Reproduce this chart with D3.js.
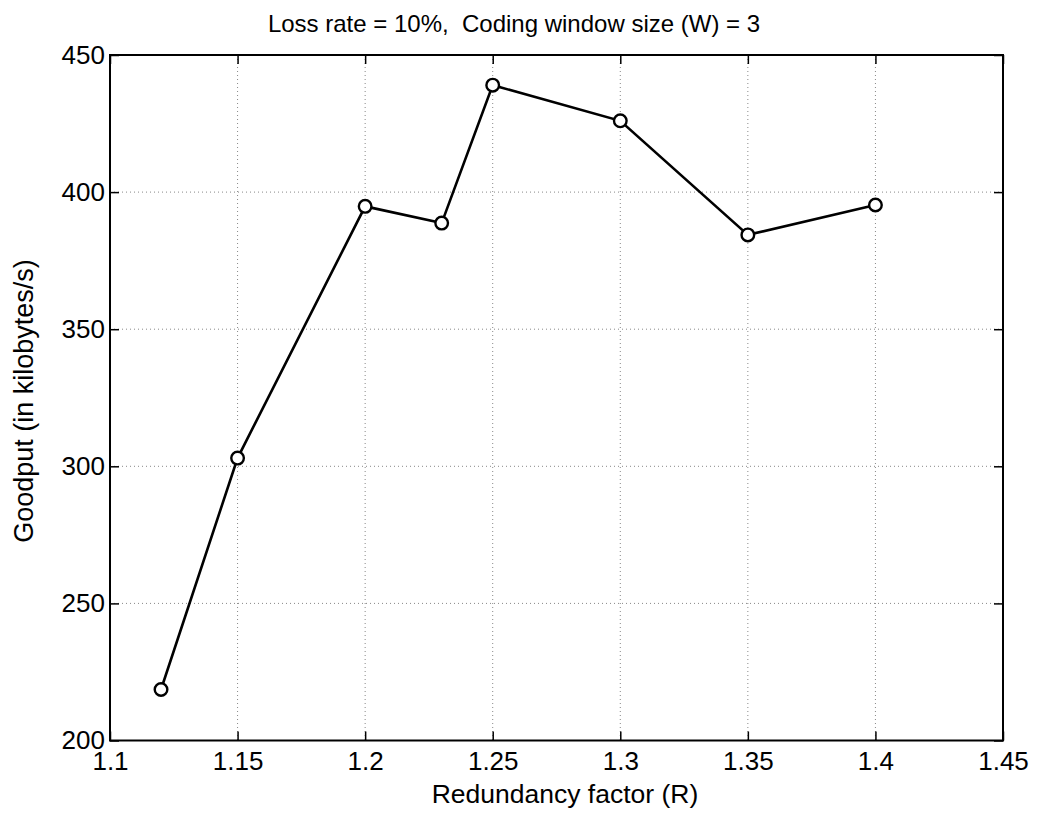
<!DOCTYPE html>
<html><head><meta charset="utf-8">
<script src="https://cdn.jsdelivr.net/npm/d3@7"></script>
<style>body{margin:0;background:#fff}svg{display:block}text{font-family:"Liberation Sans",Arial,sans-serif;fill:#000}</style>
</head><body>
<svg id="c" width="1037" height="817"></svg>
<script>
const redundancy = [1.12, 1.15, 1.2, 1.23, 1.25, 1.3, 1.35, 1.4];
const goodput = [218.6, 303, 394.8, 388.7, 439, 426, 384.4, 395.3];
const xTicks = [1.1, 1.15, 1.2, 1.25, 1.3, 1.35, 1.4, 1.45];
const xTickLabels = ["1.1", "1.15", "1.2", "1.25", "1.3", "1.35", "1.4", "1.45"];
const yTicks = [200, 250, 300, 350, 400, 450];
const yTickLabels = ["200", "250", "300", "350", "400", "450"];
const titleText = "Loss rate = 10%,  Coding window size (W) = 3";
const xLabel = "Redundancy factor (R)";
const yLabel = "Goodput (in kilobytes/s)";

const L = 110, R = 1003, T = 55, B = 740.5;
const svg = d3.select("#c");
const x = d3.scaleLinear().domain([1.1, 1.45]).range([L, R]);
const y = d3.scaleLinear().domain([200, 450]).range([B, T]);

// grid
const g = svg.append("g");
g.selectAll(".gx").data(xTicks.slice(1, -1)).enter().append("line")
  .attr("x1", d => x(d)).attr("x2", d => x(d)).attr("y1", T).attr("y2", B)
  .attr("stroke", "#888").attr("stroke-width", 1).attr("stroke-dasharray", "1,3");
g.selectAll(".gy").data(yTicks.slice(1, -1)).enter().append("line")
  .attr("y1", d => y(d)).attr("y2", d => y(d)).attr("x1", L).attr("x2", R)
  .attr("stroke", "#888").attr("stroke-width", 1).attr("stroke-dasharray", "1,3");

// axes with inward ticks
const tk = 9;
const ax = d3.axisBottom(x).tickValues(xTicks).tickSizeInner(-tk).tickSizeOuter(0)
  .tickPadding(11).tickFormat((d, i) => xTickLabels[i]);
const axT = d3.axisTop(x).tickValues(xTicks).tickSizeInner(-tk).tickSizeOuter(0).tickFormat("");
const ay = d3.axisLeft(y).tickValues(yTicks).tickSizeInner(-tk).tickSizeOuter(0)
  .tickPadding(5).tickFormat((d, i) => yTickLabels[i]);
const ayR = d3.axisRight(y).tickValues(yTicks).tickSizeInner(-tk).tickSizeOuter(0).tickFormat("");

function style(sel) {
  sel.select(".domain").remove();
  sel.selectAll("line").attr("stroke", "#000").attr("stroke-width", 1.5);
  sel.selectAll("text").style("font-size", "26px").style("font-family", '"Liberation Sans",Arial,sans-serif').attr("fill", "#000");
}
svg.append("g").attr("transform", `translate(0,${B})`).call(ax).call(style);
svg.append("g").attr("transform", `translate(0,${T})`).call(axT).call(style);
svg.append("g").attr("transform", `translate(${L},0)`).call(ay).call(style);
svg.append("g").attr("transform", `translate(${R},0)`).call(ayR).call(style);

// box
svg.append("rect").attr("x", L).attr("y", T).attr("width", R - L).attr("height", B - T)
  .attr("fill", "none").attr("stroke", "#000").attr("stroke-width", 2);

// line
const line = d3.line().x((d, i) => x(redundancy[i])).y(d => y(d));
svg.append("path").datum(goodput).attr("d", line).attr("fill", "none")
  .attr("stroke", "#000").attr("stroke-width", 2.6);
svg.selectAll(".pt").data(goodput).enter().append("circle")
  .attr("cx", (d, i) => x(redundancy[i])).attr("cy", d => y(d)).attr("r", 6.3)
  .attr("fill", "#fff").attr("stroke", "#000").attr("stroke-width", 2.4);

// labels
svg.append("text").attr("x", 514).attr("y", 32).attr("text-anchor", "middle")
  .style("font-size", "24px").style("white-space", "pre").attr("xml:space", "preserve").text(titleText);
svg.append("text").attr("x", 565).attr("y", 803).attr("text-anchor", "middle")
  .style("font-size", "26.5px").text(xLabel);
svg.append("text").attr("transform", "translate(33,401) rotate(-90)").attr("text-anchor", "middle")
  .style("font-size", "27px").text(yLabel);
</script>
</body></html>
